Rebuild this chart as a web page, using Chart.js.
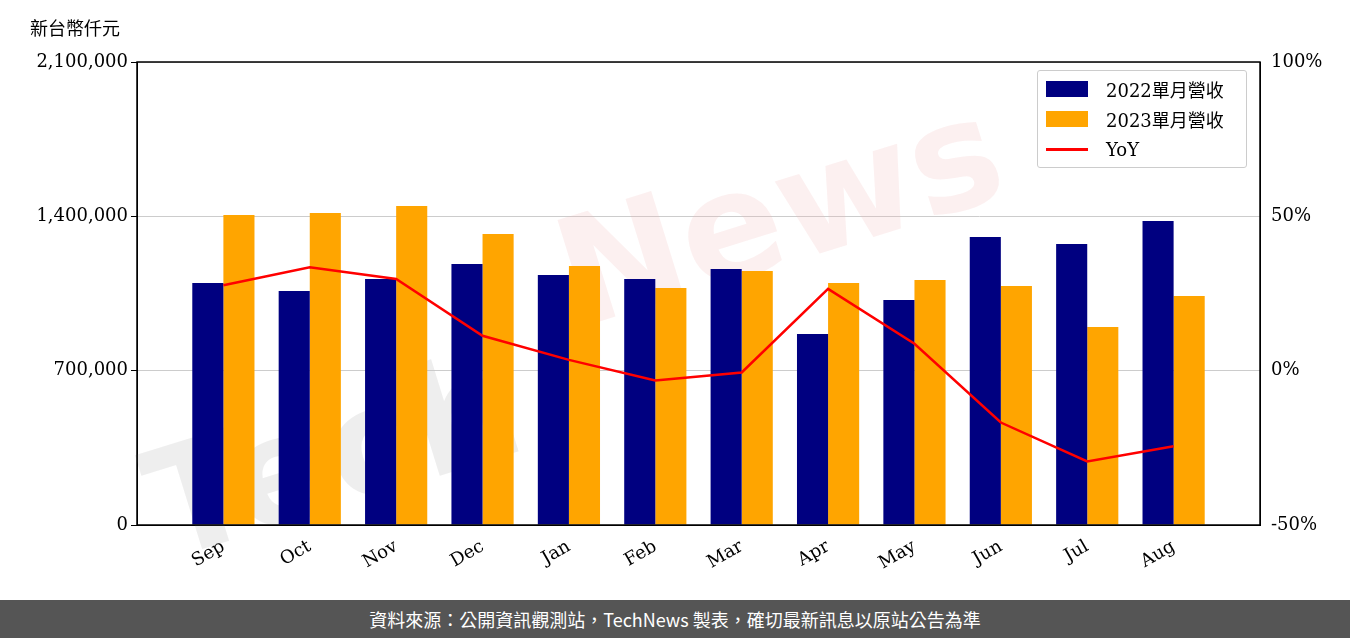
<!DOCTYPE html>
<html><head><meta charset="utf-8">
<script src="https://cdn.jsdelivr.net/npm/chart.js@4"></script>
<style>
body{margin:0;width:1350px;height:638px;background:#fff;position:relative;overflow:hidden;font-family:"DejaVu Serif","Noto Sans CJK TC",serif}
#unit{position:absolute;left:30px;top:14px;font-size:18px;font-family:"Noto Sans CJK TC"}
#legend{position:absolute;left:1037px;top:70px;width:208px;height:96px;border:1px solid #ccc;border-radius:3px;background:rgba(255,255,255,0.8);font-size:18px}
#legend div{position:absolute;left:8px;height:24px;display:flex;align-items:center}
#legend span.sw{display:inline-block;width:42px;margin-right:18px}
#foot{position:absolute;left:0;top:600px;width:1350px;height:38px;background:#555;color:#fff;font:18px "Noto Sans CJK TC";text-align:center;line-height:38px}
</style></head><body>
<canvas id="c" width="1350" height="600" style="position:absolute;left:0;top:0"></canvas>
<div id="unit">新台幣仟元</div>
<div id="legend">
<div style="top:6px"><span class="sw" style="height:16px;background:#000080"></span>2022單月營收</div>
<div style="top:36px"><span class="sw" style="height:16px;background:#FFA500"></span>2023單月營收</div>
<div style="top:66px"><span class="sw" style="height:3px;background:#f00"></span>YoY</div>
</div>
<div id="foot">資料來源：公開資訊觀測站，TechNews 製表，確切最新訊息以原站公告為準</div>
<script>
const months = ["","Sep","Oct","Nov","Dec","Jan","Feb","Mar","Apr","May","Jun","Jul","Aug",""];
const rev2022 = [null,1098000,1061000,1116000,1184000,1134000,1116000,1161000,866000,1020000,1306000,1274000,1379000,null];
const rev2023 = [null,1406000,1415000,1447000,1320000,1175000,1075000,1152000,1098000,1111000,1084000,898000,1039000,null];
const yoy = [null,27.7,33.5,29.7,11.3,3.5,-3.2,-0.6,26.5,8.7,-16.8,-29.4,-24.5,null];
const leftTicks = [0,700000,1400000,2100000];
const rightTicks = [-50,0,50,100];

const frame = {
  id:"frame",
  beforeDatasetsDraw(ch){
    const c=ch.ctx;
    c.save();c.font="bold 150px 'DejaVu Sans'";c.fillStyle="rgba(200,200,200,0.3)";
    c.translate(640,330);c.rotate(-0.3);c.fillText("Tech",-520,80);
    c.fillStyle="rgba(240,180,180,0.2)";c.fillText("News",-60,-20);c.restore();
  },
  afterDraw(ch){
    const c=ch.ctx,a=ch.chartArea;
    c.save();c.strokeStyle="#000";c.lineWidth=1.5;
    c.strokeRect(a.left,a.top,a.right-a.left,a.bottom-a.top);c.restore();
  }
};
const tf={size:18,family:"DejaVu Serif"};

new Chart("c",{
  type:"bar",
  data:{labels:months,datasets:[
    {type:"line",data:yoy,yAxisID:"y2",borderColor:"#f00",borderWidth:2.5,pointRadius:0,fill:false,order:0},
    {data:rev2022,backgroundColor:"#000080",yAxisID:"y",order:1},
    {data:rev2023,backgroundColor:"#FFA500",yAxisID:"y",order:1}
  ]},
  options:{
    responsive:false,animation:false,
    layout:{padding:{top:62,right:0,left:0,bottom:0}},
    plugins:{legend:{display:false},tooltip:{enabled:false}},
    datasets:{bar:{categoryPercentage:0.72,barPercentage:1}},
    scales:{
      x:{offset:false,grid:{display:false},border:{color:"#000"},afterFit:s=>{s.height=75},
        ticks:{color:"#000",maxRotation:30,minRotation:30,autoSkip:false,font:tf}},
      y:{min:0,max:2100000,afterBuildTicks:s=>{s.ticks=leftTicks.map(v=>({value:v}))},afterFit:s=>{s.width=137},
        grid:{color:"#ccc",tickColor:"#000",tickLength:6},border:{color:"#000"},
        ticks:{color:"#000",font:tf,callback:v=>v.toLocaleString("en-US")}},
      y2:{position:"right",min:-50,max:100,afterBuildTicks:s=>{s.ticks=rightTicks.map(v=>({value:v}))},afterFit:s=>{s.width=90},
        grid:{display:false},border:{color:"#000"},
        ticks:{color:"#000",font:tf,callback:v=>v+"%"}}
    }
  },
  plugins:[frame]
});
</script></body></html>
